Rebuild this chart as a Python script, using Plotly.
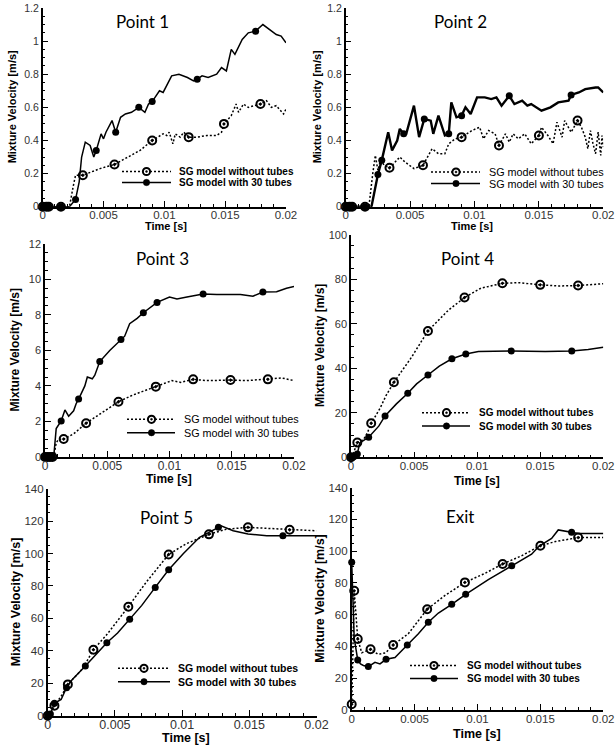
import plotly.graph_objects as go

W, H = 615, 749

# ---------------- text ----------------
PANEL_TITLES = ["Point 1", "Point 2", "Point 3", "Point 4", "Point 5", "Exit"]
LEGEND_LABELS = ["SG model without tubes", "SG model with 30 tubes"]
Y_TITLE = "Mixture Velocity [m/s]"
X_TITLE = "Time [s]"
X_TICKS = [0, 0.005, 0.01, 0.015, 0.02]
X_TICK_TEXT = ["0", "0.005", "0.01", "0.015", "0.02"]

# ---------------- data: Point 1 ----------------
p1_t_without = [0, 0.0022, 0.0025, 0.0027, 0.0033, 0.0040, 0.0047, 0.0059, 0.0072, 0.0080, 0.0090, 0.0094,
                0.0099, 0.0102, 0.0104, 0.0107, 0.0109, 0.0113, 0.0116, 0.0120, 0.0127, 0.0135, 0.0143, 0.0147,
                0.0149, 0.0155, 0.0159, 0.0161, 0.0165, 0.0169, 0.0179, 0.0184, 0.0188, 0.0192, 0.0198, 0.0200]
p1_v_without = [0, 0, 0.12, 0.19, 0.19, 0.21, 0.23, 0.255, 0.31, 0.34, 0.40, 0.42,
                0.44, 0.43, 0.45, 0.38, 0.44, 0.42, 0.45, 0.42, 0.42, 0.43, 0.43, 0.45,
                0.50, 0.55, 0.62, 0.57, 0.62, 0.60, 0.62, 0.64, 0.60, 0.61, 0.56, 0.59]
p1_t_with = [0, 0.0022, 0.0027, 0.0030, 0.0032, 0.0035, 0.0039, 0.0042, 0.0044, 0.0048, 0.0050, 0.0052,
             0.0057, 0.0060, 0.0064, 0.0068, 0.0073, 0.0079, 0.0084, 0.0087, 0.0090, 0.0093, 0.0096, 0.0099,
             0.0106, 0.0112, 0.0119, 0.0124, 0.0127, 0.0131, 0.0136, 0.0143, 0.0147, 0.0151, 0.0155, 0.0158,
             0.0164, 0.0169, 0.0175, 0.0181, 0.0187, 0.0192, 0.0196, 0.0200]
p1_v_with = [0, 0, 0.044, 0.15, 0.30, 0.39, 0.37, 0.30, 0.34, 0.44, 0.41, 0.45,
             0.52, 0.45, 0.54, 0.56, 0.57, 0.60, 0.57, 0.62, 0.635, 0.67, 0.70, 0.69,
             0.79, 0.80, 0.78, 0.76, 0.77, 0.79, 0.78, 0.80, 0.84, 0.82, 0.95, 0.92,
             1.01, 1.05, 1.06, 1.10, 1.07, 1.04, 1.03, 0.99]
p1_mt_without = [0, 0.0003, 0.0005, 0.0015, 0.0033, 0.0059, 0.0090, 0.0120, 0.0149, 0.0179]
p1_mv_without = [0, 0, 0, 0, 0.19, 0.255, 0.40, 0.42, 0.50, 0.62]
p1_mt_with = [0, 0.0003, 0.0005, 0.0015, 0.0027, 0.0044, 0.0060, 0.0079, 0.0090, 0.0127, 0.0175]
p1_mv_with = [0, 0, 0, 0, 0.044, 0.34, 0.45, 0.60, 0.635, 0.77, 1.06]

# ---------------- data: Point 2 ----------------
p2_t_without = [0, 0.0018, 0.0021, 0.0023, 0.0025, 0.0027, 0.0030, 0.0034, 0.0036, 0.0042, 0.0046, 0.0053,
                0.0060, 0.0063, 0.0067, 0.0072, 0.0077, 0.0080, 0.0085, 0.0090, 0.0098, 0.0104, 0.0107, 0.0111,
                0.0116, 0.0119, 0.0124, 0.0127, 0.0130, 0.0134, 0.0139, 0.0144, 0.0150, 0.0152, 0.0157, 0.0161,
                0.0164, 0.0168, 0.0170, 0.0175, 0.0180, 0.0183, 0.0186, 0.0188, 0.0190, 0.0192, 0.0194, 0.0196,
                0.0198, 0.0199, 0.0200]
p2_v_without = [0, 0, 0.20, 0.31, 0.22, 0.28, 0.25, 0.235, 0.25, 0.30, 0.27, 0.23,
                0.25, 0.29, 0.35, 0.32, 0.32, 0.38, 0.41, 0.42, 0.46, 0.48, 0.41, 0.46,
                0.44, 0.37, 0.44, 0.39, 0.44, 0.41, 0.44, 0.38, 0.43, 0.48, 0.43, 0.38,
                0.51, 0.42, 0.52, 0.45, 0.52, 0.48, 0.42, 0.35, 0.46, 0.38, 0.32, 0.45,
                0.31, 0.43, 0.36]
p2_t_with = [0, 0.0020, 0.0025, 0.0028, 0.0033, 0.0036, 0.0040, 0.0042, 0.0045, 0.0047, 0.0053, 0.0057,
             0.0061, 0.0066, 0.0068, 0.0072, 0.0077, 0.0080, 0.0082, 0.0086, 0.0090, 0.0093, 0.0097, 0.0102,
             0.0108, 0.0113, 0.0117, 0.0121, 0.0127, 0.0131, 0.0137, 0.0141, 0.0144, 0.0150, 0.0152, 0.0159,
             0.0165, 0.0173, 0.0175, 0.0181, 0.0186, 0.0194, 0.0196, 0.0200]
p2_v_with = [0, 0, 0.195, 0.28, 0.45, 0.34, 0.40, 0.47, 0.44, 0.44, 0.61, 0.42,
             0.53, 0.52, 0.44, 0.55, 0.43, 0.44, 0.63, 0.54, 0.55, 0.60, 0.56, 0.66,
             0.66, 0.65, 0.66, 0.61, 0.67, 0.62, 0.64, 0.61, 0.62, 0.59, 0.58, 0.60,
             0.63, 0.64, 0.675, 0.69, 0.71, 0.72, 0.72, 0.69]
p2_mt_without = [0, 0.0003, 0.0005, 0.0015, 0.0034, 0.0060, 0.0090, 0.0119, 0.0150, 0.0180]
p2_mv_without = [0, 0, 0, 0, 0.235, 0.25, 0.42, 0.37, 0.43, 0.52]
p2_mt_with = [0, 0.0003, 0.0005, 0.0015, 0.0025, 0.0028, 0.0045, 0.0061, 0.0080, 0.0090, 0.0127, 0.0175]
p2_mv_with = [0, 0, 0, 0, 0.195, 0.28, 0.44, 0.53, 0.44, 0.55, 0.67, 0.675]

# ---------------- data: Point 3 ----------------
p3_t_without = [0, 0.0007, 0.0009, 0.0011, 0.0015, 0.0023, 0.0033, 0.0044, 0.0054, 0.0059, 0.0071, 0.0089,
                0.0102, 0.0109, 0.0119, 0.0130, 0.0149, 0.0162, 0.0179, 0.0190, 0.0200]
p3_v_without = [0, 0, 0.8, 1.0, 1.01, 1.3, 1.9, 2.4, 2.9, 3.11, 3.5, 3.96,
                4.3, 4.2, 4.37, 4.3, 4.33, 4.3, 4.37, 4.45, 4.3]
p3_t_with = [0, 0.0007, 0.0009, 0.0013, 0.0016, 0.0019, 0.0023, 0.0025, 0.0027, 0.0032, 0.0034, 0.0038,
             0.0040, 0.0044, 0.0052, 0.0061, 0.0064, 0.0068, 0.0074, 0.0079, 0.0086, 0.0090, 0.0100, 0.0106,
             0.0114, 0.0127, 0.0138, 0.0157, 0.0167, 0.0175, 0.0186, 0.0194, 0.0200]
p3_v_with = [0, 0, 1.6, 2.03, 2.65, 2.3, 2.6, 3.0, 3.26, 4.0, 4.5, 4.4,
             4.6, 5.37, 6.0, 6.62, 6.8, 7.5, 7.8, 8.12, 8.5, 8.70, 9.0, 8.9,
             9.0, 9.17, 9.15, 9.15, 9.05, 9.29, 9.3, 9.5, 9.6]
p3_mt_without = [0, 0.0002, 0.0004, 0.0006, 0.0015, 0.0033, 0.0059, 0.0089, 0.0119, 0.0149, 0.0179]
p3_mv_without = [0, 0, 0, 0, 1.01, 1.9, 3.11, 3.96, 4.37, 4.33, 4.37]
p3_mt_with = [0, 0.0002, 0.0004, 0.0006, 0.0013, 0.0027, 0.0044, 0.0061, 0.0079, 0.0090, 0.0127, 0.0175]
p3_mv_with = [0, 0, 0, 0, 2.03, 3.26, 5.37, 6.62, 8.12, 8.70, 9.17, 9.29]

# ---------------- data: Point 4 ----------------
p4_t_without = [0, 0.0002, 0.0005, 0.0010, 0.0013, 0.0016, 0.0023, 0.0028, 0.0034, 0.0048, 0.0061, 0.0077,
                0.0090, 0.0103, 0.0120, 0.0133, 0.0150, 0.0164, 0.0180, 0.0191, 0.0200]
p4_v_without = [0, 2, 6.6, 8, 11, 15.3, 22, 28, 33.7, 45, 56.8, 66,
                71.8, 76, 78.2, 78.5, 77.5, 77, 77.2, 77.8, 78]
p4_t_with = [0, 0.0003, 0.0005, 0.0007, 0.0014, 0.0022, 0.0027, 0.0036, 0.0045, 0.0052, 0.0061, 0.0070,
             0.0080, 0.0091, 0.0101, 0.0122, 0.0127, 0.0154, 0.0175, 0.0188, 0.0200]
p4_v_with = [0, 0.5, 1.5, 6.5, 9.0, 14, 18.6, 24, 28.8, 33, 37.0, 41,
             44.3, 46.4, 47.5, 47.8, 47.8, 47.6, 47.8, 48.5, 49.5]
p4_mt_without = [0, 0.0005, 0.0016, 0.0034, 0.0061, 0.0090, 0.0120, 0.0150, 0.0180]
p4_mv_without = [0, 6.6, 15.3, 33.7, 56.8, 71.8, 78.2, 77.5, 77.2]
p4_mt_with = [0, 0.0002, 0.0005, 0.0014, 0.0027, 0.0045, 0.0061, 0.0080, 0.0091, 0.0127, 0.0175]
p4_mv_with = [0, 0.3, 1.5, 9.0, 18.6, 28.8, 37.0, 44.3, 46.4, 47.8, 47.8]

# ---------------- data: Point 5 ----------------
p5_t_without = [0, 0.0002, 0.0005, 0.0010, 0.0015, 0.0026, 0.0034, 0.0044, 0.0060, 0.0073, 0.0090, 0.0103,
                0.0120, 0.0133, 0.0149, 0.0163, 0.0180, 0.0200]
p5_v_without = [0, 1, 6.2, 12, 19.3, 29, 40.7, 50, 67.2, 82, 99.4, 106,
                111.8, 115, 116.1, 115.5, 114.6, 114]
p5_t_with = [0, 0.0002, 0.0005, 0.0010, 0.0014, 0.0018, 0.0028, 0.0036, 0.0044, 0.0052, 0.0061, 0.0070,
             0.0080, 0.0090, 0.0101, 0.0113, 0.0127, 0.0129, 0.0138, 0.0149, 0.0163, 0.0175, 0.0200]
p5_v_with = [0, 1, 7.6, 10, 17.3, 22, 30.6, 38, 45.0, 51, 59.4, 68,
             79.1, 90.0, 100, 110, 116.1, 117, 114, 112, 111, 111, 111]
p5_mt_without = [0, 0.0005, 0.0015, 0.0034, 0.0060, 0.0090, 0.0120, 0.0149, 0.0180]
p5_mv_without = [0, 6.2, 19.3, 40.7, 67.2, 99.4, 111.8, 116.1, 114.6]
p5_mt_with = [0, 0.0002, 0.0005, 0.0014, 0.0028, 0.0044, 0.0061, 0.0080, 0.0090, 0.0127, 0.0175]
p5_mv_with = [0, 1, 7.6, 17.3, 30.6, 45.0, 59.4, 79.1, 90.0, 116.1, 111]

# ---------------- data: Exit ----------------
p6_t_without = [0, 0.0001, 0.0002, 0.00048, 0.0008, 0.0015, 0.0021, 0.0027, 0.0033, 0.0045, 0.0060, 0.0074,
                0.0090, 0.0106, 0.0120, 0.0135, 0.0150, 0.0162, 0.0175, 0.0180, 0.0200]
p6_v_without = [3.6, 50, 75, 44.7, 36, 38.2, 35, 36, 40.9, 48, 63.4, 72,
                80.3, 86, 91.9, 97, 103.4, 106, 108, 108.5, 108.5]
p6_t_with = [0, 0.00008, 0.0002, 0.00048, 0.0007, 0.00093, 0.00132, 0.00185, 0.00225, 0.00273, 0.00344, 0.00442,
             0.0053, 0.00609, 0.00689, 0.00795, 0.00906, 0.01086, 0.01272, 0.0143, 0.01491, 0.01589, 0.01642,
             0.01695, 0.01748, 0.01801, 0.0200]
p6_v_with = [93, 70, 45, 31.5, 29, 28, 27.3, 30, 29, 31.9, 33, 40.9,
             48, 55.2, 61, 66.5, 72.8, 82, 90.8, 98, 103.2, 108, 113.3,
             112.5, 111.8, 111, 111]
p6_mt_without = [0, 0.0002, 0.00048, 0.0015, 0.0033, 0.0060, 0.0090, 0.0120, 0.0150, 0.0180]
p6_mv_without = [3.6, 75, 44.7, 38.2, 40.9, 63.4, 80.3, 91.9, 103.4, 108.5]
p6_mt_with = [0, 0.00048, 0.00132, 0.00273, 0.00442, 0.00609, 0.00795, 0.00906, 0.01272, 0.01748]
p6_mv_with = [93, 31.5, 27.3, 31.9, 40.9, 55.2, 66.5, 72.8, 90.8, 111.8]

series = [
    (p1_t_without, p1_v_without, p1_mt_without, p1_mv_without, p1_t_with, p1_v_with, p1_mt_with, p1_mv_with),
    (p2_t_without, p2_v_without, p2_mt_without, p2_mv_without, p2_t_with, p2_v_with, p2_mt_with, p2_mv_with),
    (p3_t_without, p3_v_without, p3_mt_without, p3_mv_without, p3_t_with, p3_v_with, p3_mt_with, p3_mv_with),
    (p4_t_without, p4_v_without, p4_mt_without, p4_mv_without, p4_t_with, p4_v_with, p4_mt_with, p4_mv_with),
    (p5_t_without, p5_v_without, p5_mt_without, p5_mv_without, p5_t_with, p5_v_with, p5_mt_with, p5_mv_with),
    (p6_t_without, p6_v_without, p6_mt_without, p6_mv_without, p6_t_with, p6_v_with, p6_mt_with, p6_mv_with),
]

# ---------------- layout geometry (pixels) ----------------
panels = [
    dict(box=(42.7, 286.0, 8.0, 206.7), yr=1.2, dy=0.2, my=0.05, title=(142.5, 21), xt=(166, 226), yt=12,
         leg=(122, 171, 146.5, 171.5, 182.5, 178), legbold=True, legsize=10, solidw=1.5, tsize=11, xtick=11.5, ytick=10.5),
    dict(box=(345.7, 603.3, 8.0, 206.7), yr=1.2, dy=0.2, my=0.05, title=(460, 21), xt=(472, 226), yt=317,
         leg=(431, 480, 456, 172, 183.5, 488), legbold=False, legsize=10.8, solidw=2.4, tsize=11, xtick=11.5, ytick=10.5),
    dict(box=(45.0, 294.0, 243.8, 457.0), yr=12, dy=2, my=0.5, title=(162, 258), xt=(169, 479), yt=15,
         leg=(127, 175, 151.5, 419.3, 432.7, 183), legbold=False, legsize=10.8, solidw=1.5, tsize=12, xtick=12, ytick=11),
    dict(box=(351.0, 603.3, 234.8, 457.3), yr=100, dy=20, my=5, title=(467.5, 258), xt=(477, 481), yt=320,
         leg=(422, 470, 446.5, 412.7, 426, 478), legbold=True, legsize=10, solidw=1.5, tsize=12, xtick=11.5, ytick=11),
    dict(box=(47.7, 316.5, 488.6, 715.7), yr=140, dy=20, my=5, title=(166.5, 517), xt=(186, 738), yt=16,
         leg=(118, 170, 144, 668.3, 681.7, 177), legbold=True, legsize=10.5, solidw=1.5, tsize=12.5, xtick=12.5, ytick=11.5),
    dict(box=(351.7, 603.3, 487.5, 710.0), yr=140, dy=20, my=5, title=(460, 516), xt=(477.5, 734), yt=320,
         leg=(410, 458, 434, 665.5, 678.5, 466), legbold=True, legsize=10, solidw=1.5, tsize=12.5, xtick=11.5, ytick=11.5),
]


def px(x):
    return x / W


def py(y):
    return 1 - y / H


TICK_COLOR = "#333333"
FONT = "Liberation Sans, Arial"
fig = go.Figure()
annotations = []
shapes = []

for i, (p, s) in enumerate(zip(panels, series)):
    n = i + 1
    xa = "x" if n == 1 else f"x{n}"
    ya = "y" if n == 1 else f"y{n}"
    t_wo, v_wo, mt_wo, mv_wo, t_w, v_w, mt_w, mv_w = s

    fig.add_trace(go.Scatter(x=t_wo, y=v_wo, mode="lines", xaxis=xa, yaxis=ya, cliponaxis=False,
                             line=dict(color="black", width=1.5, dash="2px,2px"), showlegend=False,
                             name=LEGEND_LABELS[0]))
    fig.add_trace(go.Scatter(x=t_w, y=v_w, mode="lines", xaxis=xa, yaxis=ya, cliponaxis=False,
                             line=dict(color="black", width=p["solidw"]), showlegend=False,
                             name=LEGEND_LABELS[1]))
    fig.add_trace(go.Scatter(x=mt_wo, y=mv_wo, mode="markers", xaxis=xa, yaxis=ya, cliponaxis=False,
                             marker=dict(symbol="circle-open-dot", size=8, color="black",
                                         line=dict(width=2, color="black")),
                             showlegend=False, name=LEGEND_LABELS[0]))
    fig.add_trace(go.Scatter(x=mt_w, y=mv_w, mode="markers", xaxis=xa, yaxis=ya, cliponaxis=False,
                             marker=dict(symbol="circle", size=7, color="black"),
                             showlegend=False, name=LEGEND_LABELS[1]))

    l, r, t, b = p["box"]
    axis_common = dict(showline=True, linecolor="black", linewidth=1.5, showgrid=False, zeroline=False,
                       ticks="inside", ticklen=6, tickwidth=1.2, tickcolor="black", automargin=False,
                       mirror=False)
    fig.layout[("xaxis" if n == 1 else f"xaxis{n}")] = dict(
        axis_common, domain=[px(l), px(r)], anchor=ya, range=[0, 0.02],
        tickvals=X_TICKS, ticktext=X_TICK_TEXT, ticklabelstandoff=-3,
        tickfont=dict(family=FONT, color=TICK_COLOR, size=p["xtick"]),
        minor=dict(ticks="inside", ticklen=3, tickwidth=1, tickcolor="black", dtick=0.001, tick0=0, showgrid=False))
    fig.layout[("yaxis" if n == 1 else f"yaxis{n}")] = dict(
        axis_common, domain=[py(b), py(t)], anchor=xa, range=[0, p["yr"]], dtick=p["dy"], tick0=0,
        tickfont=dict(family=FONT, color=TICK_COLOR, size=p["ytick"]),
        minor=dict(ticks="inside", ticklen=3, tickwidth=1, tickcolor="black", dtick=p["my"], tick0=0, showgrid=False))

    annotations.append(dict(text=PANEL_TITLES[i], x=px(p["title"][0]), y=py(p["title"][1]), xref="paper",
                            yref="paper", showarrow=False, xanchor="center", yanchor="middle",
                            font=dict(family="Lato, Open Sans", size=17, color="black")))
    annotations.append(dict(text=f"<b>{X_TITLE}</b>", x=px(p["xt"][0]), y=py(p["xt"][1]), xref="paper",
                            yref="paper", showarrow=False, xanchor="center", yanchor="middle",
                            font=dict(family=FONT, size=p["tsize"], color="black")))
    annotations.append(dict(text=f"<b>{Y_TITLE}</b>", x=px(p["yt"]), y=py((t + b) / 2), xref="paper",
                            yref="paper", showarrow=False, xanchor="center", yanchor="middle", textangle=-90,
                            font=dict(family=FONT, size=p["tsize"], color="black")))

    lx0, lx1, mx, r1, r2, tx = p["leg"]
    shapes.append(dict(type="line", xref="paper", yref="paper", x0=px(lx0), x1=px(lx1), y0=py(r1), y1=py(r1),
                       line=dict(color="black", width=1.5, dash="2px,2px")))
    shapes.append(dict(type="line", xref="paper", yref="paper", x0=px(lx0), x1=px(lx1), y0=py(r2), y1=py(r2),
                       line=dict(color="black", width=1.5)))
    rr = 3.6
    shapes.append(dict(type="circle", xref="paper", yref="paper", x0=px(mx - rr), x1=px(mx + rr),
                       y0=py(r1 + rr), y1=py(r1 - rr), fillcolor="white", line=dict(color="black", width=2)))
    shapes.append(dict(type="circle", xref="paper", yref="paper", x0=px(mx - 1), x1=px(mx + 1),
                       y0=py(r1 + 1), y1=py(r1 - 1), fillcolor="black", line=dict(color="black", width=0.5)))
    rf = 3.2
    shapes.append(dict(type="circle", xref="paper", yref="paper", x0=px(mx - rf), x1=px(mx + rf),
                       y0=py(r2 + rf), y1=py(r2 - rf), fillcolor="black", line=dict(color="black", width=0.5)))
    for lab, ry in zip(LEGEND_LABELS, (r1, r2)):
        txt = f"<b>{lab}</b>" if p["legbold"] else lab
        annotations.append(dict(text=txt, x=px(tx), y=py(ry), xref="paper", yref="paper", showarrow=False,
                                xanchor="left", yanchor="middle", borderpad=0,
                                font=dict(family=FONT, size=p["legsize"], color="black")))

fig.update_layout(width=W, height=H, margin=dict(l=0, r=0, t=0, b=0, autoexpand=False), paper_bgcolor="white",
                  plot_bgcolor="white", showlegend=False, annotations=annotations, shapes=shapes)

fig.write_html("out.html", config={"displayModeBar": False},
               post_script="document.body.style.margin='0';document.body.style.padding='0';"
                           "document.body.style.overflow='hidden';")
